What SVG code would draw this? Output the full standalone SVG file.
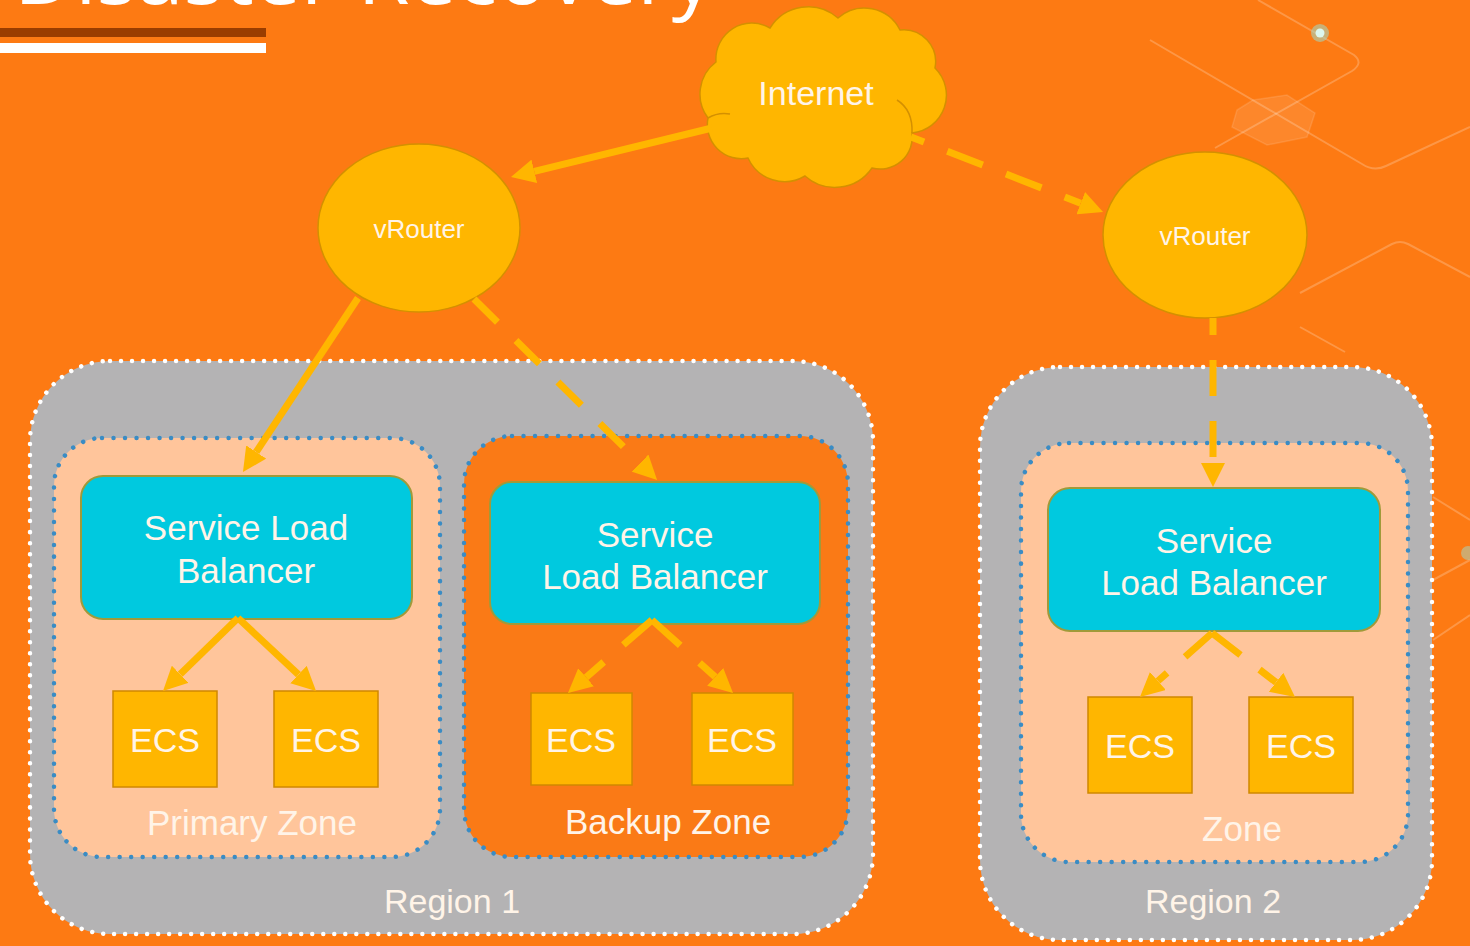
<svg xmlns="http://www.w3.org/2000/svg" width="1470" height="946" viewBox="0 0 1470 946">
  <style>
    .lbl { font-family: "Liberation Sans", Arial, sans-serif; fill: #FFF4E8; text-anchor: middle; }
    .region { fill: #B4B3B4; stroke: #FFFFFF; stroke-width: 4.5; stroke-dasharray: 0.01 11; stroke-linecap: round; }
    .zone { stroke: #3A8CC4; stroke-width: 4.5; stroke-dasharray: 0.01 11.5; stroke-linecap: round; }
    .slb { fill: #00C9DF; stroke: #A09A3A; stroke-width: 2; }
    .ecs { fill: #FFB600; stroke: #D08800; stroke-width: 1.5; }
    .gold { fill: #FFB600; stroke: #D49000; stroke-width: 1.5; }
    .conn { stroke: #FFB600; stroke-width: 7; fill: none; }
    .deco { stroke: #FFFFFF; stroke-opacity: 0.22; stroke-width: 2; fill: none; }
  </style>
  <defs>
    <marker id="ah" viewBox="0 0 24 24" refX="0" refY="12" markerWidth="24" markerHeight="24" markerUnits="userSpaceOnUse" orient="auto">
      <path d="M0,0 L24,12 L0,24 z" fill="#FFB600"/>
    </marker>
  </defs>

  <rect x="0" y="0" width="1470" height="946" fill="#FD7A13"/>

  <g id="decor">
    <path class="deco" d="M1258,0 L1354,55 Q1364,63 1352,71 L1215,148"/>
    <path class="deco" d="M1150,40 L1362,164 Q1374,172 1386,166 L1470,127"/>
    <path class="deco" d="M1300,293 L1392,244 Q1400,240 1408,244 L1470,277"/>
    <path class="deco" d="M1300,327 L1345,352"/>
    <path class="deco" d="M1433,497 L1470,520"/>
    <path class="deco" d="M1433,580 L1470,560"/>
    <path class="deco" d="M1433,640 L1470,615"/>
    <polygon points="1237,110 1253,100 1287,95 1315,113 1307,137 1267,145 1232,127" fill="#FFFFFF" fill-opacity="0.1" stroke="#FFFFFF" stroke-opacity="0.12" stroke-width="1.5"/>
    <circle cx="1320" cy="33" r="9" fill="#9FDCCB" opacity="0.55"/>
    <circle cx="1320" cy="33" r="4.5" fill="#DDF7EE"/>
    <circle cx="1468" cy="553" r="7" fill="#9FDCCB" opacity="0.5"/>
  </g>

  <g id="title">
    <text x="14" y="4" font-family="'Open Sans', 'Liberation Sans', Arial, sans-serif" font-size="80" fill="#FFFFFF" textLength="700" lengthAdjust="spacingAndGlyphs">Disaster Recovery</text>
    <rect x="0" y="28" width="266" height="9" fill="#9A3D00"/>
    <rect x="0" y="43" width="266" height="10" fill="#FFFFFF"/>
  </g>

  <g id="region1">
    <rect class="region" x="30" y="361" width="843" height="573" rx="80"/>
    <text class="lbl" x="452" y="913" font-size="34">Region 1</text>
  </g>
  <g id="region2">
    <rect class="region" x="980" y="367" width="452" height="573" rx="80"/>
    <text class="lbl" x="1213" y="913" font-size="34">Region 2</text>
  </g>

  <g id="primary-zone">
    <rect class="zone" x="54" y="438" width="386" height="419" rx="48" fill="#FFC59B"/>
    <text class="lbl" x="252" y="835" font-size="35">Primary Zone</text>
  </g>
  <g id="backup-zone">
    <rect class="zone" x="464" y="436" width="384" height="421" rx="48" fill="#FA7A16"/>
    <text class="lbl" x="668" y="834" font-size="35">Backup Zone</text>
  </g>
  <g id="zone2">
    <rect class="zone" x="1021" y="443" width="387" height="419" rx="48" fill="#FFC59B"/>
    <text class="lbl" x="1242" y="841" font-size="35">Zone</text>
  </g>

  <g id="internet">
    <path class="gold" d="M708,118 A40,40 0 0 1 716,62 A36,36 0 0 1 770,28 A45,45 0 0 1 838,18 A40,40 0 0 1 900,30 A32,32 0 0 1 935,68 A38,38 0 0 1 912,133 A32,32 0 0 1 872,168 A45,45 0 0 1 805,176 A40,40 0 0 1 748,158 A34,34 0 0 1 708,118 Z"/>
    <path d="M897,100 Q913,110 912,133" fill="none" stroke="#D49000" stroke-width="1.5"/>
    <path d="M708,118 Q718,112 730,114" fill="none" stroke="#D49000" stroke-width="1.5"/>
    <text class="lbl" x="816" y="105" font-size="34">Internet</text>
  </g>

  <g id="vrouter1">
    <ellipse class="gold" cx="419" cy="228" rx="101" ry="84"/>
    <text class="lbl" x="419" y="238" font-size="26">vRouter</text>
  </g>
  <g id="vrouter2">
    <ellipse class="gold" cx="1205" cy="235" rx="102" ry="83"/>
    <text class="lbl" x="1205" y="245" font-size="26">vRouter</text>
  </g>

  <g id="slb-primary">
    <rect class="slb" x="81" y="476" width="331" height="143" rx="22"/>
    <text class="lbl" x="246" y="540" font-size="35">Service Load</text>
    <text class="lbl" x="246" y="583" font-size="35">Balancer</text>
  </g>
  <g id="slb-backup">
    <rect class="slb" x="490" y="482" width="330" height="142" rx="22"/>
    <text class="lbl" x="655" y="547" font-size="35">Service</text>
    <text class="lbl" x="655" y="589" font-size="35">Load Balancer</text>
  </g>
  <g id="slb-region2">
    <rect class="slb" x="1048" y="488" width="332" height="143" rx="22"/>
    <text class="lbl" x="1214" y="553" font-size="35">Service</text>
    <text class="lbl" x="1214" y="595" font-size="35">Load Balancer</text>
  </g>

  <g id="ecs-p1"><rect class="ecs" x="113" y="691" width="104" height="96"/><text class="lbl" x="165" y="752" font-size="34">ECS</text></g>
  <g id="ecs-p2"><rect class="ecs" x="274" y="691" width="104" height="96"/><text class="lbl" x="326" y="752" font-size="34">ECS</text></g>
  <g id="ecs-b1"><rect class="ecs" x="531" y="693" width="101" height="92"/><text class="lbl" x="581" y="752" font-size="34">ECS</text></g>
  <g id="ecs-b2"><rect class="ecs" x="692" y="693" width="101" height="92"/><text class="lbl" x="742" y="752" font-size="34">ECS</text></g>
  <g id="ecs-r1"><rect class="ecs" x="1088" y="697" width="104" height="96"/><text class="lbl" x="1140" y="758" font-size="34">ECS</text></g>
  <g id="ecs-r2"><rect class="ecs" x="1249" y="697" width="104" height="96"/><text class="lbl" x="1301" y="758" font-size="34">ECS</text></g>

  <g id="connectors">
    <line class="conn" x1="712" y1="128" x2="534.3" y2="171.3" marker-end="url(#ah)"/>
    <line class="conn" x1="911" y1="137" x2="1080.7" y2="203.2" stroke-dasharray="38 25" stroke-dashoffset="24" marker-end="url(#ah)"/>
    <line class="conn" x1="358" y1="298" x2="256.2" y2="452" marker-end="url(#ah)"/>
    <line class="conn" x1="474" y1="299" x2="640" y2="463.1" stroke-dasharray="33 26" marker-end="url(#ah)"/>
    <line class="conn" x1="1213" y1="318" x2="1213" y2="463" stroke-dasharray="36 25" stroke-dashoffset="19" marker-end="url(#ah)"/>
    <line class="conn" x1="238" y1="618" x2="180.2" y2="674.3" marker-end="url(#ah)"/>
    <line class="conn" x1="238" y1="618" x2="298.5" y2="674.6" marker-end="url(#ah)"/>
    <line class="conn" x1="652" y1="620" x2="586.1" y2="677.3" stroke-dasharray="38 26" marker-end="url(#ah)"/>
    <line class="conn" x1="652" y1="620" x2="715.2" y2="676.9" stroke-dasharray="38 26" marker-end="url(#ah)"/>
    <line class="conn" x1="1212" y1="633" x2="1157.9" y2="681" stroke-dasharray="36 24" marker-end="url(#ah)"/>
    <line class="conn" x1="1212" y1="633" x2="1276" y2="682.3" stroke-dasharray="36 24" marker-end="url(#ah)"/>
  </g>
</svg>
